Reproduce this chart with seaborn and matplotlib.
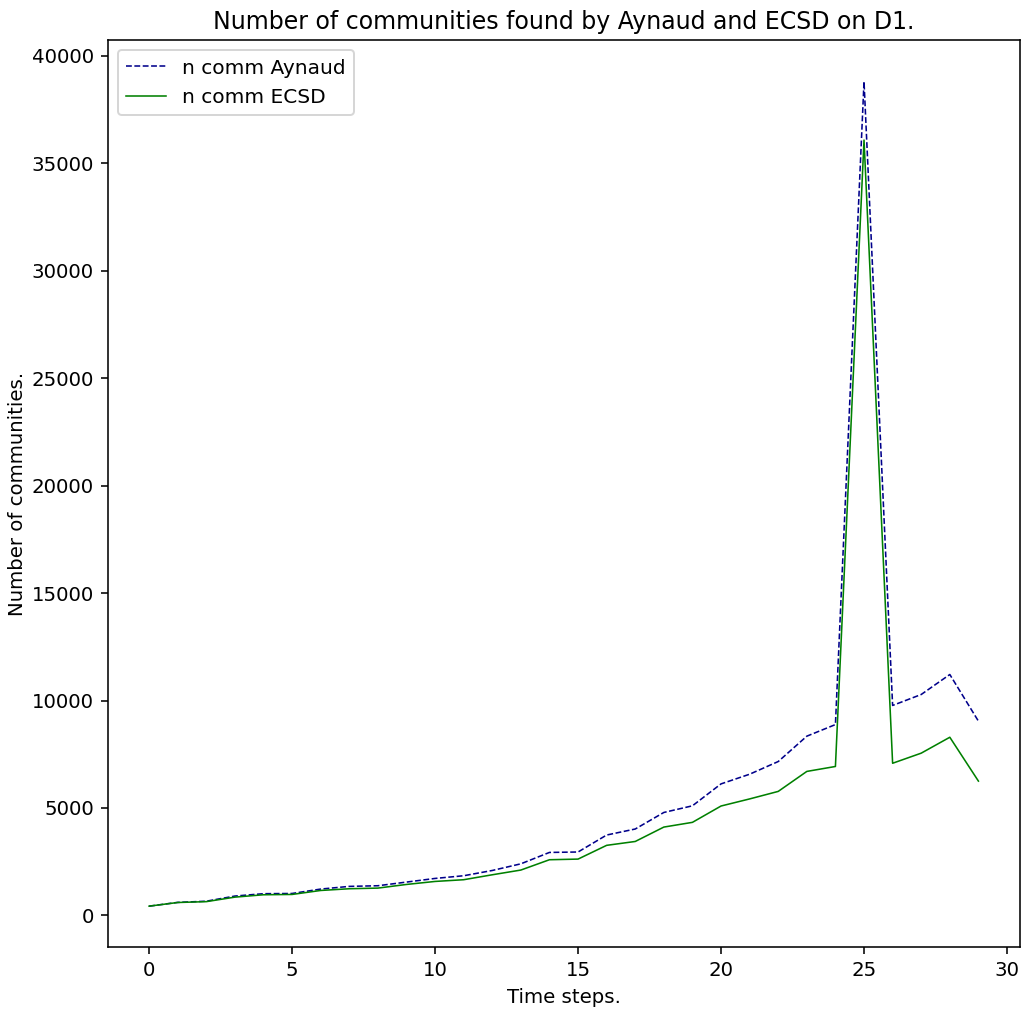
import numpy as np
import pandas as pd
import matplotlib
matplotlib.use("Agg")
import matplotlib.pyplot as plt
import seaborn as sns

# Number of communities per time step
time_steps = list(range(30))
n_comm_aynaud = [430, 605, 660, 900, 1010, 1020, 1225, 1350, 1380, 1550,
                 1720, 1845, 2090, 2400, 2930, 2950, 3740, 4020, 4790, 5100,
                 6120, 6570, 7160, 8340, 8880, 38800, 9770, 10280, 11210, 9040]
n_comm_ecsd = [430, 600, 640, 850, 960, 975, 1160, 1240, 1270, 1440,
               1580, 1660, 1890, 2110, 2590, 2620, 3260, 3440, 4110, 4330,
               5090, 5420, 5770, 6700, 6930, 36080, 7080, 7550, 8290, 6250]

df = pd.DataFrame({"t": time_steps, "aynaud": n_comm_aynaud, "ecsd": n_comm_ecsd})

dpi = 142
fig = plt.figure(figsize=(1025 / dpi, 1010 / dpi), dpi=dpi)
ax = fig.add_axes([0.105, 0.062, 0.89, 0.898])

sns.lineplot(data=df, x="t", y="aynaud", ax=ax, color="darkblue",
             linestyle="--", linewidth=0.8, label="n comm Aynaud")
sns.lineplot(data=df, x="t", y="ecsd", ax=ax, color="green",
             linewidth=0.8, label="n comm ECSD")

ax.set_title("Number of communities found by Aynaud and ECSD on D1.", fontsize=12)
ax.set_xlabel("Time steps.", fontsize=10)
ax.set_ylabel("Number of communities.", fontsize=10, labelpad=2)
ax.legend(loc="upper left", fontsize=10.2)

fig.savefig("out.png", dpi=dpi)
